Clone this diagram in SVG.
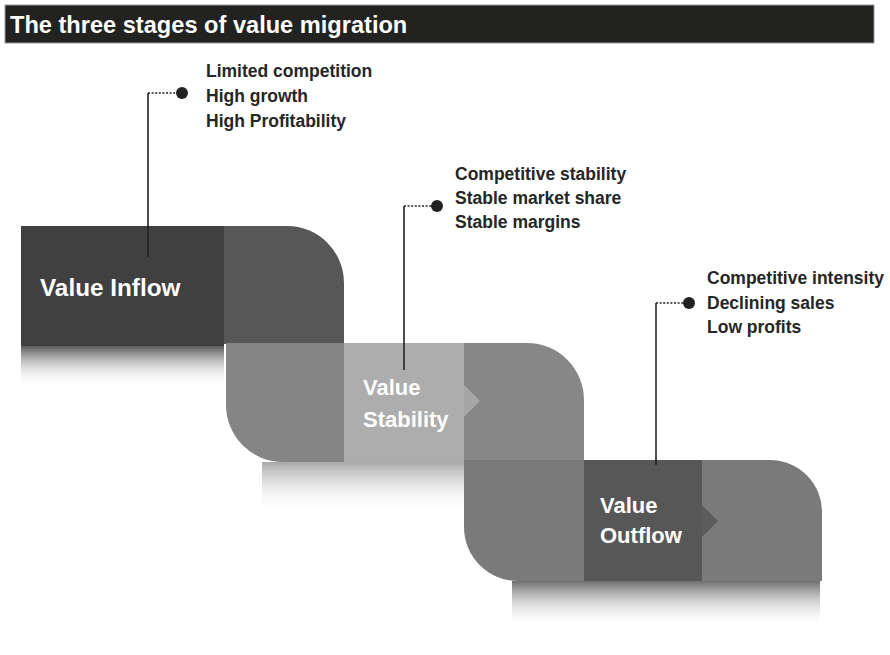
<svg xmlns="http://www.w3.org/2000/svg" width="890" height="655" viewBox="0 0 890 655">
<style>
.t{font-family:"Liberation Sans",Arial,sans-serif;font-weight:bold;}
.w{fill:#ffffff;}
.a{fill:#262626;font-size:17.5px;}
.dot{stroke:#222;stroke-width:1.6;stroke-dasharray:2 1.6;fill:none;}
.ln{stroke:#222;stroke-width:1.6;fill:none;}
</style>
<defs>
<linearGradient id="g1" x1="0" y1="0" x2="0" y2="1"><stop offset="0" stop-color="#5a5a5a"/><stop offset="1" stop-color="#ffffff" stop-opacity="0"/></linearGradient>
<linearGradient id="g2" x1="0" y1="0" x2="0" y2="1"><stop offset="0" stop-color="#a8a8a8"/><stop offset="1" stop-color="#ffffff" stop-opacity="0"/></linearGradient>
<linearGradient id="g3" x1="0" y1="0" x2="0" y2="1"><stop offset="0" stop-color="#6e6e6e"/><stop offset="1" stop-color="#ffffff" stop-opacity="0"/></linearGradient>
</defs>
<rect width="890" height="655" fill="#ffffff"/>
<g id="title">
<rect x="5" y="5" width="869" height="38" fill="#222220" stroke="#9a9a9a" stroke-width="1"/>
<text class="t w" x="10" y="33" font-size="23.6">The three stages of value migration</text>
</g>
<g id="stage1">
<rect x="21" y="346" width="203" height="40" fill="url(#g1)"/>
<rect x="21" y="226" width="203" height="120" fill="#404040"/>
<path d="M224,226 H287 A57,57 0 0 1 344,283 V344 H224 Z" fill="#575757"/>
<text class="t w" x="40" y="296" font-size="24.3">Value Inflow</text>
</g>
<g id="stage2">
<rect x="262" y="462" width="202" height="50" fill="url(#g2)"/>
<path d="M226,343 H344 V462 H283 A57,57 0 0 1 226,405 Z" fill="#858585"/>
<rect x="344" y="343" width="120" height="119" fill="#adadad"/>
<path d="M464,343 H527 A57,57 0 0 1 584,400 V462 H464 Z" fill="#878787"/>
<polygon points="464,385 480,401 464,417" fill="#a6a6a6"/>
<text class="t w" x="363" y="395" font-size="22">Value</text>
<text class="t w" x="363" y="427" font-size="22">Stability</text>
</g>
<g id="stage3">
<rect x="512" y="581" width="308" height="46" fill="url(#g3)"/>
<path d="M464,460 H584 V581 H518 A54,54 0 0 1 464,527 Z" fill="#7a7a7a"/>
<rect x="584" y="460" width="118" height="121" fill="#575757"/>
<path d="M702,460 H770 A52,52 0 0 1 822,512 V581 H702 Z" fill="#7a7a7a"/>
<polygon points="702,505 718,521 702,537" fill="#5c5c5c"/>
<text class="t w" x="600" y="513" font-size="22">Value</text>
<text class="t w" x="600" y="543" font-size="22">Outflow</text>
</g>
<g id="connectors">
<path class="ln" d="M148,93 V257"/>
<path class="dot" d="M148,93 H177"/>
<circle cx="182" cy="93" r="6" fill="#222"/>
<path class="ln" d="M404,206 V370"/>
<path class="dot" d="M404,206 H432"/>
<circle cx="437" cy="206" r="6" fill="#222"/>
<path class="ln" d="M656,303 V465"/>
<path class="dot" d="M656,303 H684"/>
<circle cx="689" cy="303" r="6" fill="#222"/>
</g>
<g id="notes1">
<text class="t a" x="206" y="77">Limited competition</text>
<text class="t a" x="206" y="102">High growth</text>
<text class="t a" x="206" y="127">High Profitability</text>
</g>
<g id="notes2">
<text class="t a" x="455" y="180">Competitive stability</text>
<text class="t a" x="455" y="204">Stable market share</text>
<text class="t a" x="455" y="228">Stable margins</text>
</g>
<g id="notes3">
<text class="t a" x="707" y="284">Competitive intensity</text>
<text class="t a" x="707" y="309">Declining sales</text>
<text class="t a" x="707" y="333">Low profits</text>
</g>
</svg>
